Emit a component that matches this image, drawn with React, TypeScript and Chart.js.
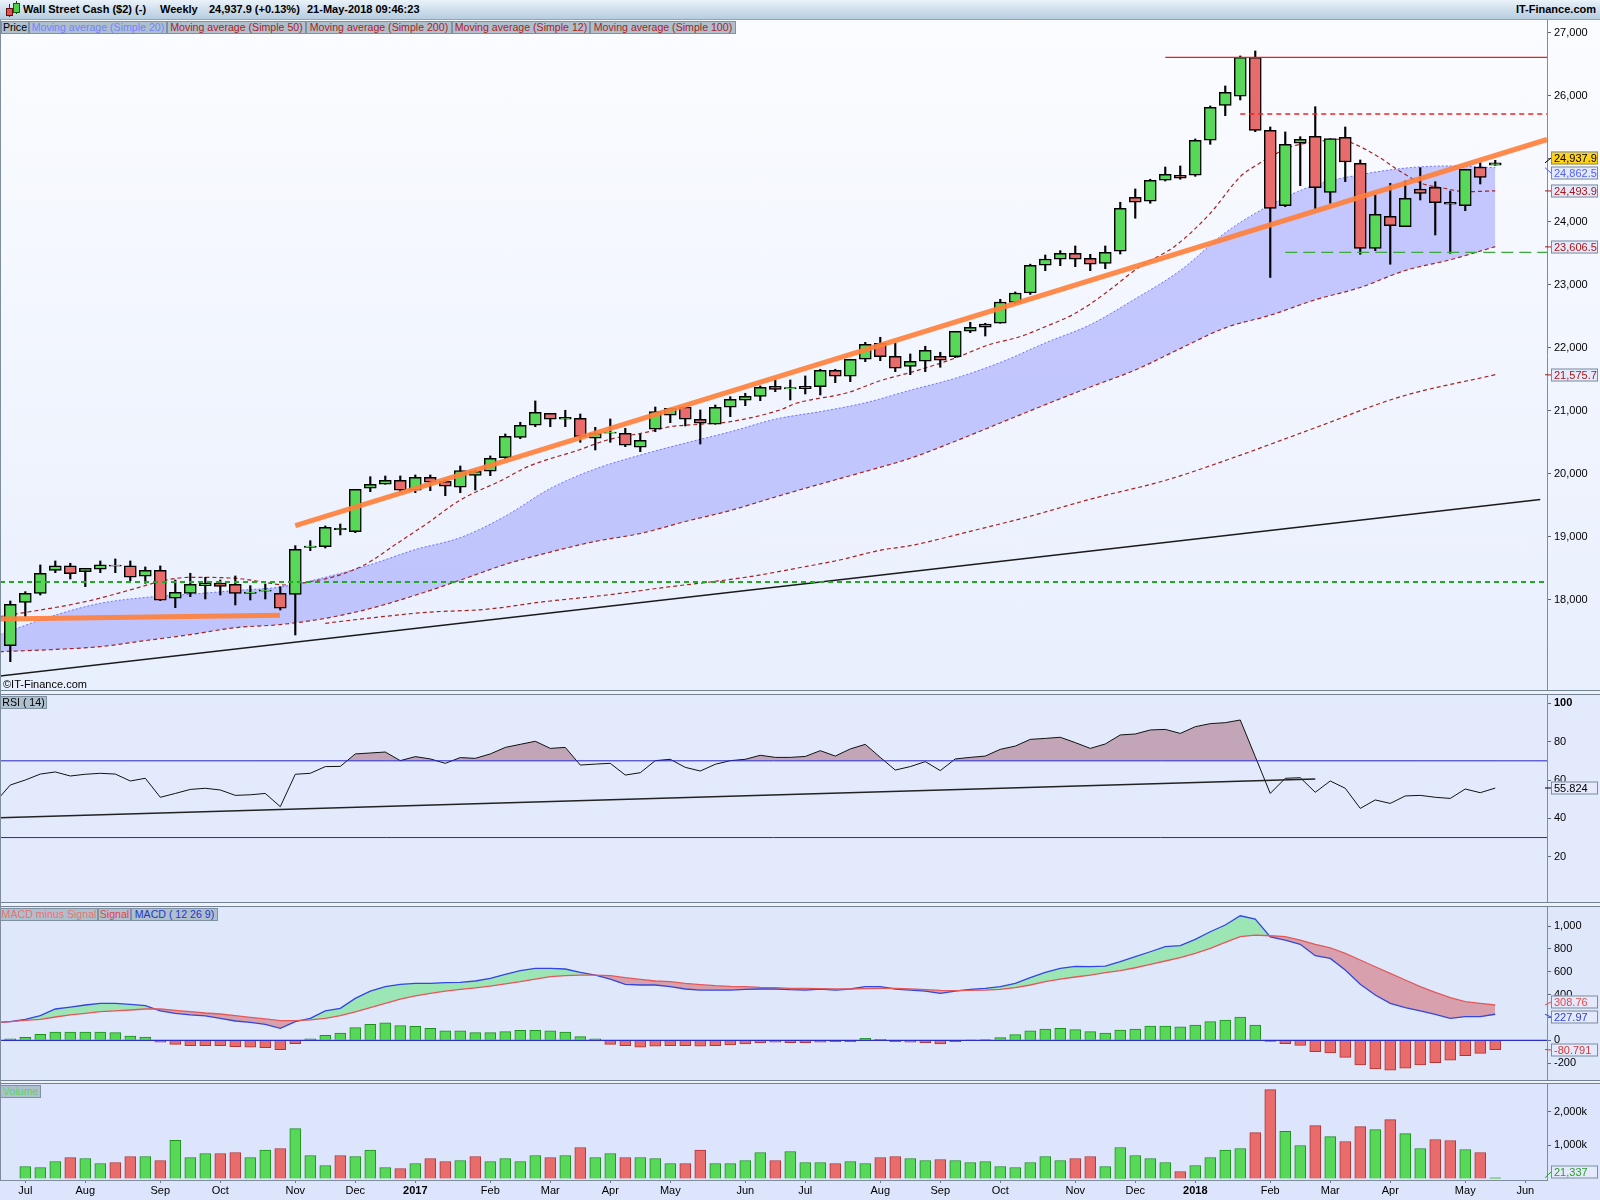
import React, { useEffect, useRef } from 'react';
import { Chart, registerables } from 'chart.js';

Chart.register(...registerables);

const FONT = '"Liberation Sans", Arial, Helvetica, sans-serif';

// ---------- categories / ticks ----------
const firstWeekStart = '2016-06-27';
const monthTickIdx = [1, 5, 10, 14, 19, 23, 27, 32, 36, 40, 44, 49, 53, 58, 62, 66, 71, 75, 79, 84, 88, 92, 97, 101];
const monthTickLabels = ['Jul', 'Aug', 'Sep', 'Oct', 'Nov', 'Dec', '2017', 'Feb', 'Mar', 'Apr', 'May', 'Jun', 'Jul', 'Aug', 'Sep', 'Oct', 'Nov', 'Dec', '2018', 'Feb', 'Mar', 'Apr', 'May', 'Jun'];
const priceTicks = [18000, 19000, 20000, 21000, 22000, 23000, 24000, 25000, 26000, 27000];
const rsiTicks = [20, 40, 60, 80, 100];
const macdTicks = [-200, 0, 200, 400, 600, 800, 1000];
const volTicks = [1000, 2000];

// ---------- weekly OHLC ----------
const opens = [17275,17963,18106,18471,18540,18449,18487,18535,18540,18376, 18471,18027,18106,18227,18270,18249,18106,18138,18106,18090, 18836,18846,19117,19084,19773,19837,19900,19741,19948,19884, 19789,19979,20043,20259,20582,20773,20963,20868,20884,20567, 20646,20646,20424,20710,20932,21063,20868,20789,21059,21170, 21233,21392,21350,21354,21386,21646,21551,21821,22075,21868, 21709,21789,21868,21862,22265,22329,22392,22725,22873,23313, 23408,23503,23424,23344,23535,24392,24329,24662,24741,24741, 25297,25852,25995,26614,25455,24259,25249,25360,24471,25344, 24932,23582,24090,23925,24524,24551,24313,24259,24873,24900];
const highs = [17984,18132,18556,18619,18583,18503,18619,18651,18619,18524, 18540,18317,18424,18360,18317,18381,18227,18254,18211,18862, 18941,19175,19206,19757,19957,19968,19968,19984,19984,19905, 20127,20063,20286,20635,20821,21159,20963,21011,20952,20741, 20873,20725,20630,21063,21043,21063,21016,21095,21227,21281, 21397,21492,21492,21556,21662,21662,21821,22090,22170,22075, 21905,22027,21932,22265,22408,22392,22773,22889,23330,23476, 23545,23619,23487,23619,24313,24524,24678,24873,24889,25317, 25841,26159,26635,26714,25508,25429,25354,25830,25322,25508, 24984,24429,24614,24651,24862,24640,24492,24837,24941,24979];
const lows = [17021,17735,18079,18433,18333,18211,18433,18433,18306,18265, 17990,17878,18053,18016,18079,17921,18000,18016,17841,17444, 18783,18825,19032,19068,19719,19837,19719,19703,19735,19656, 19703,19746,19973,20238,20560,20751,20751,20751,20503,20381, 20503,20433,20354,20671,20814,20762,20476,20789,20910,21084, 21164,21306,21175,21270,21254,21449,21465,21783,21798,21624, 21576,21624,21694,21846,22243,22190,22392,22700,22850,23227, 23306,23291,23227,23259,23492,24059,24297,24650,24678,24725, 25233,25687,25937,25433,23119,24243,24576,24206,24297,24640, 23487,23545,23329,23925,24349,23794,23503,24179,24603,24900];
const closes = [17932,18106,18424,18540,18417,18503,18556,18555,18360,18471, 17995,18122,18249,18270,18217,18106,18126,18158,17868,18805, 18856,19154,19137,19757,19837,19900,19741,19948,19868,19805, 20052,20043,20249,20598,20773,20979,20868,20900,20592,20646, 20666,20456,20535,20989,21043,20868,20805,21059,21186,21233, 21376,21344,21370,21392,21646,21551,21821,22059,21862,21678, 21789,21963,21805,22265,22329,22381,22730,22873,23313,23413, 23503,23408,23329,23519,24217,24313,24662,24757,24694,25297, 25821,26059,26614,25455,24217,25233,25313,24545,25322,24952, 23582,24122,23941,24376,24455,24306,24281,24837,24709,24938];

// ---------- moving averages ----------
const ma12X = [-0.7,5,8,10.4,12,15,17,18.2,20.6,21.6,23.6,25.8,27.8,30,32.8,34.5,37.9,39.8,42.6,44,46,48,51.3,52.4,55.8,58,60.2,63,65.2,67.3,69,71,73,75.3,77.6,80,82,83.1,85.4,87.2,88.6,89.5,91.2,92.7,94.1,95.6,97,99];
const ma12 = [17735,17973,18160,18317,18360,18344,18280,18238,18317,18370,18556,18900,19217,19587,19905,20116,20381,20540,20672,20751,20789,20830,21016,21122,21290,21480,21624,21840,22048,22179,22338,22550,22868,23291,23608,24138,24719,24905,25195,25275,25313,25249,25037,24799,24614,24535,24481,24494];
const bandX = [-0.7,3,6,9,12,15,18,21,24,27,30,33,36,39,42,45,48,51,54,57,60,63,66,69,72,75,78,81,84,87,90,93,96,99];
const ma20 = [17450,17760,17947,18040,18090,18150,18205,18360,18560,18800,18990,19330,19770,20080,20300,20490,20670,20870,20990,21130,21330,21520,21770,22080,22370,22780,23230,23830,24270,24590,24750,24855,24890,24862];
const ma50 = [17179,17215,17259,17355,17450,17560,17610,17709,17865,18075,18315,18565,18760,18930,19055,19245,19420,19635,19840,20040,20249,20520,20810,21100,21380,21650,21990,22320,22520,22765,22960,23230,23400,23608];
const ma100X = [21,24.4,27.8,31.7,35.6,39.8,44,46.8,49.6,52.4,55.3,58.1,60,64,68,72,77.1,81.1,86.9,92.7,99];
const ma100 = [17630,17725,17805,17852,17973,18079,18211,18290,18381,18503,18635,18794,18862,19090,19330,19600,19905,20222,20725,21227,21576];

// ---------- drawn lines ----------
const orange1X = [-0.687, 17.98];
const orange1Y = [17698, 17757];
const orange2X = [19, 102.45];
const orange2Y = [19179, 25309];
const blackTrendX = [-0.687, 102];
const blackTrendY = [16794, 19594];
const greenLevel = 18286;
const supportLevel = 23519;
const supportFromX = 85;
const highLevel = 26614;
const highFromX = 77;
const redDashLevel = 25714;
const redDashFromX = 82;

// ---------- RSI ----------
const rsiX0 = -1;
const rsi = [48.5, 57.4,60,63.1,64.2,62.1,63,63.5,63.1,59.5,60.9, 51,53,55.1,55.7,54.8,52,52.3,53,46.1,63, 63.5,67,67.1,73.6,74.1,74.6,70.1,72.2,71,68.7, 71.7,71.3,73.6,77,78.6,80.2,76.5,77,67.8,68.3, 68.7,62.6,63.8,70.1,70.8,66.6,64.7,68.2,70.1,70.8, 72.9,71.8,71.8,72.3,75.3,72.5,76.2,78.6,71.8,65.2, 67,69.6,64.9,71,71.8,72.5,76,77.7,81.2,81.7, 82.3,79.5,76.5,78.8,83.5,84,86.1,86.4,84.3,87.8, 89.4,89.9,91.3,72.2,53,60.9,61.2,53.6,59.5,55.7, 45.2,49.6,47.8,51.7,52,51,50.4,55.3,53.4,55.8];
const rsiTrendX = [-0.687, 87];
const rsiTrendY = [40.35, 60.5];
const rsiUpper = 70;
const rsiLower = 30;

// ---------- MACD ----------
const macdX0 = -1;
const macd = [155, 163,184,216,274,291,309,324,324,315,303, 257,236,222,213,192,169,157,140,105,163, 192,257,280,367,431,469,490,498,498,504, 507,519,542,577,609,630,630,624,595,571, 536,490,484,484,469,449,440,440,440,446, 449,449,443,440,449,440,449,469,469,449, 440,431,411,431,446,455,469,498,548,595, 630,647,644,650,688,732,775,819,828,883, 950,1009,1090,1061,905,877,840,740,717,615, 490,396,324,286,257,227,192,207,207,228];
const signal = [155, 163,175,184,204,222,236,251,257,265,274, 274,262,251,239,230,216,201,187,172,172, 178,192,216,248,286,324,361,388,411,431, 446,458,475,493,513,536,557,566,571,571, 566,548,533,519,513,498,487,478,472,469, 463,461,455,455,452,449,449,452,455,455, 449,443,437,434,437,440,446,461,484,513, 536,554,571,592,609,635,665,694,723,761, 805,857,907,921,915,907,877,840,810,761, 703,644,586,528,469,420,373,338,324,309];
const hist = [12,26,52,73,73,73,73,67,38,29, -17,-35,-47,-47,-47,-55,-61,-64,-82,-29, 12,44,64,111,140,152,128,122,105,82, 82,67,67,76,87,87,82,73,32,12, -35,-47,-61,-52,-47,-47,-52,-47,-41,-32, -23,-17,-20,-20,-17,-12,-12,17,9,-12, -17,-20,-32,-12,3,6,23,50,82,99, 105,93,76,64,90,99,125,125,117,134, 163,178,204,134,-10,-30,-45,-100,-110,-150, -215,-250,-262,-245,-215,-195,-175,-135,-115,-81];

// ---------- Volume (thousands) ----------
const volume = [null, 360,330,510,630,600,450,480,660,660,540, 1150,630,750,750,780,630,850,900,1500,690, 390,690,660,850,330,300,450,600,510,540, 660,510,600,510,690,630,690,930,630,750, 630,630,600,450,450,850,450,450,540,780, 540,810,480,480,450,510,450,630,660,600, 540,570,540,480,510,360,330,480,660,540, 600,660,360,930,690,600,480,210,390,630, 850,900,1380,2670,1420,990,1590,1260,1110,1560, 1470,1770,1350,900,1170,1140,870,780, 21.337];

// ---------- last values shown on the axes ----------
const lastPrice = 24937.9;
const lastMa20 = 24862.5;
const lastMa12 = 24493.9;
const lastMa50 = 23606.5;
const lastMa100 = 21575.7;
const lastRsi = 55.824;
const lastSignal = 308.76;
const lastMacd = 227.97;
const lastHist = -80.791;
const lastVolume = 21337;

// ---------- layout constants ----------
const X_MIN = -0.687;
const X_MAX = 102.45;
const AXIS_W = 53;
const GREEN = '#58d858';
const RED = '#e86c6c';

const fmt = (v: number) => v.toLocaleString('en-US');
const pts = (xs: number[], ys: number[]) => xs.map((x, k) => ({ x, y: ys[k] }));
const seq = (x0: number, ys: number[]) => ys.map((y, k) => ({ x: x0 + k, y }));

function xScale(show = false) {
  if (!show) return { type: 'linear', min: X_MIN, max: X_MAX, offset: false, display: false };
  return {
    type: 'linear', min: X_MIN, max: X_MAX, offset: false, position: 'bottom',
    afterBuildTicks: (s: any) => { s.ticks = monthTickIdx.map((v) => ({ value: v })); },
    afterFit: (s: any) => { s.height = 20; s.paddingLeft = 0; s.paddingRight = 0; },
    grid: { drawOnChartArea: false, drawTicks: true, tickLength: 3, color: '#6a7a8a', offset: false },
    border: { display: true, color: '#7d8d9d' },
    ticks: {
      autoSkip: false, maxRotation: 0, padding: 1, color: '#000',
      callback: (_v: any, i: number) => monthTickLabels[i],
      font: (ctx: any) => ({ family: FONT, size: 11, weight: /^\d{4}$/.test(monthTickLabels[ctx.index] || '') ? 'bold' : 'normal' }),
    },
  };
}

function yScale(min: number, max: number, ticks: number[], cb: (v: number) => string, boldTop = false) {
  return {
    type: 'linear', position: 'right', min, max,
    afterBuildTicks: (s: any) => { s.ticks = ticks.map((v) => ({ value: v })); },
    afterFit: (s: any) => { s.width = AXIS_W; s.paddingTop = 0; s.paddingBottom = 0; },
    grid: { drawOnChartArea: false, drawTicks: true, tickLength: 4, color: '#5a6a7a' },
    border: { display: true, color: '#7d8d9d' },
    ticks: {
      callback: (v: any) => cb(Number(v)), padding: 3, color: '#000',
      font: (ctx: any) => ({ family: FONT, size: 11, weight: boldTop && ctx.tick && ctx.tick.value === ticks[ticks.length - 1] ? 'bold' : 'normal' }),
    },
  };
}

type VL = { value: number; text: string; color: string; bg: string; dy?: number };
function valueLabels(items: VL[]) {
  return {
    id: 'valueLabels',
    afterDraw(chart: any) {
      const { ctx, chartArea } = chart;
      const ys = chart.scales.y;
      ctx.save();
      ctx.font = `11px ${FONT}`;
      ctx.textBaseline = 'middle';
      items.forEach((it) => {
        const base = ys.getPixelForValue(it.value);
        const py = Math.round(base + (it.dy || 0));
        const x = chartArea.right + 4;
        const w = 47;
        const h = 13;
        ctx.strokeStyle = it.color;
        ctx.lineWidth = 1;
        ctx.beginPath();
        ctx.moveTo(chartArea.right - 2, base);
        ctx.lineTo(x, py);
        ctx.stroke();
        ctx.fillStyle = it.bg;
        ctx.fillRect(x, py - h / 2, w, h);
        ctx.strokeStyle = '#7b8c9e';
        ctx.strokeRect(x + 0.5, py - h / 2 + 0.5, w - 1, h - 1);
        ctx.fillStyle = it.color;
        ctx.fillText(it.text, x + 3, py + 0.5);
      });
      ctx.restore();
    },
  };
}

const baseOptions = (scales: any) => ({
  responsive: false,
  animation: false,
  devicePixelRatio: 1,
  events: [],
  layout: { padding: 0 },
  plugins: { legend: { display: false }, tooltip: { enabled: false }, title: { display: false } },
  scales,
});

function priceConfig(): any {
  const idx = closes.map((_, i) => i);
  const line = (data: any[], color: string, width: number, dash: number[], order: number, extra: any = {}) => ({
    type: 'line', data, borderColor: color, borderWidth: width, borderDash: dash, pointRadius: 0, fill: false, order, ...extra,
  });
  return {
    type: 'bar',
    data: {
      datasets: [
        line(pts(bandX, ma20), 'rgba(100,100,255,0.9)', 1, [2, 2], 20, { fill: 1, backgroundColor: 'rgba(165,170,252,0.62)', cubicInterpolationMode: 'monotone' }),
        line(pts(bandX, ma50), '#a82222', 1.2, [4, 3], 19, { cubicInterpolationMode: 'monotone' }),
        line(pts(ma100X, ma100), '#a82222', 1.2, [4, 3], 18, { cubicInterpolationMode: 'monotone' }),
        line(pts(ma12X, ma12), '#a82222', 1.2, [4, 3], 17, { cubicInterpolationMode: 'monotone' }),
        line(pts(blackTrendX, blackTrendY), '#1a1a1a', 1.4, [], 16),
        {
          type: 'bar', data: idx.map((i) => ({ x: i, y: [lows[i], highs[i]] })),
          backgroundColor: '#000', borderWidth: 0, barThickness: 1.5, grouped: false, order: 10,
        },
        {
          type: 'bar', data: idx.map((i) => ({ x: i, y: [opens[i], closes[i]] })),
          backgroundColor: idx.map((i) => (closes[i] >= opens[i] ? GREEN : RED)),
          borderColor: '#000', borderWidth: 1.5, borderSkipped: false, barThickness: 12, grouped: false, order: 9,
        },
        line(pts([X_MIN, X_MAX], [greenLevel, greenLevel]), '#22a822', 2, [5, 4], 5),
        line(pts([supportFromX, X_MAX], [supportLevel, supportLevel]), '#3aa83a', 1.3, [12, 6], 5),
        line(pts([highFromX, X_MAX], [highLevel, highLevel]), '#e81e1e', 1.3, [], 5),
        line(pts([redDashFromX, X_MAX], [redDashLevel, redDashLevel]), '#ee2222', 1.3, [5, 4], 5),
        line(pts(orange1X, orange1Y), 'rgba(255,128,60,0.92)', 5, [], 1),
        line(pts(orange2X, orange2Y), 'rgba(255,128,60,0.92)', 5, [], 1),
      ],
    },
    options: baseOptions({
      x: xScale(false),
      y: yScale(16571, 27206, priceTicks, fmt),
    }),
    plugins: [valueLabels([
      { value: lastPrice, text: fmt(lastPrice), color: '#000', bg: '#ffd21c', dy: -5 },
      { value: lastMa20, text: fmt(lastMa20), color: '#5060ff', bg: '#e4e9fb', dy: 5 },
      { value: lastMa12, text: fmt(lastMa12), color: '#a81818', bg: '#e4e9fb' },
      { value: lastMa50, text: fmt(lastMa50), color: '#a81818', bg: '#e4e9fb' },
      { value: lastMa100, text: fmt(lastMa100), color: '#a81818', bg: '#e4e9fb' },
    ])],
  };
}

function rsiConfig(): any {
  return {
    type: 'line',
    data: {
      datasets: [
        { data: seq(rsiX0, rsi), borderColor: '#111', borderWidth: 1, pointRadius: 0, order: 3,
          fill: { target: { value: rsiUpper }, above: 'rgba(168,108,124,0.55)', below: 'rgba(0,0,0,0)' } },
        { data: pts([X_MIN, X_MAX], [rsiUpper, rsiUpper]), borderColor: '#2626c8', borderWidth: 1, pointRadius: 0, fill: false, order: 2 },
        { data: pts([X_MIN, X_MAX], [rsiLower, rsiLower]), borderColor: '#2626c8', borderWidth: 1, pointRadius: 0, fill: false, order: 2 },
        { data: pts(rsiTrendX, rsiTrendY), borderColor: '#222', borderWidth: 1.6, pointRadius: 0, fill: false, order: 1 },
      ],
    },
    options: baseOptions({ x: xScale(false), y: yScale(-3.6, 104.33, rsiTicks, (v) => String(v), true) }),
    plugins: [valueLabels([{ value: lastRsi, text: String(lastRsi), color: '#000', bg: '#e4e9fb' }])],
  };
}

function macdConfig(): any {
  return {
    type: 'bar',
    data: {
      datasets: [
        { type: 'bar', data: hist.map((v, i) => ({ x: i, y: v })),
          backgroundColor: hist.map((v) => (v >= 0 ? GREEN : RED)),
          borderColor: hist.map((v) => (v >= 0 ? '#1e8e1e' : '#b23434')),
          borderWidth: 1, barThickness: 11, grouped: false, order: 5 },
        { type: 'line', data: pts([X_MIN, X_MAX], [0, 0]), borderColor: '#2c2cc8', borderWidth: 1.3, pointRadius: 0, fill: false, order: 4 },
        { type: 'line', data: seq(macdX0, macd), borderColor: '#3346e0', borderWidth: 1.3, pointRadius: 0, order: 2,
          fill: { target: 3, above: 'rgba(130,228,152,0.72)', below: 'rgba(212,128,138,0.7)' } },
        { type: 'line', data: seq(macdX0, signal), borderColor: '#e4585a', borderWidth: 1.3, pointRadius: 0, fill: false, order: 1 },
      ],
    },
    options: baseOptions({ x: xScale(false), y: yScale(-347.5, 1166.7, macdTicks, fmt) }),
    plugins: [valueLabels([
      { value: lastSignal, text: String(lastSignal), color: '#e04a4a', bg: '#e4e9fb', dy: -3 },
      { value: lastMacd, text: String(lastMacd), color: '#2c3ed8', bg: '#e4e9fb', dy: 3 },
      { value: lastHist, text: String(lastHist), color: '#d03a3a', bg: '#e4e9fb' },
    ])],
  };
}

function volConfig(): any {
  const data: any[] = [];
  const colors: string[] = [];
  const borders: string[] = [];
  volume.forEach((v, i) => {
    if (v === null) return;
    const upWeek = i === 0 || closes[i] >= closes[i - 1];
    data.push({ x: i, y: v });
    colors.push(upWeek ? GREEN : RED);
    borders.push(upWeek ? '#1e8e1e' : '#b23434');
  });
  return {
    type: 'bar',
    data: {
      datasets: [
        { data, backgroundColor: colors, borderColor: borders, borderWidth: 1, barThickness: 11, grouped: false },
      ],
    },
    options: baseOptions({ x: xScale(true), y: yScale(-45, 2838, volTicks, (v) => fmt(v) + 'k') }),
    plugins: [valueLabels([{ value: lastVolume / 1000, text: fmt(lastVolume), color: '#2a9e2a', bg: '#e4e9fb', dy: -6 }])],
  };
}

const legendBoxes = [
  { text: 'Price', left: 1, width: 28, color: '#000' },
  { text: 'Moving average (Simple 20)', left: 29, width: 138, color: '#7582ff' },
  { text: 'Moving average (Simple 50)', left: 167, width: 139, color: '#b01c1c' },
  { text: 'Moving average (Simple 200)', left: 306, width: 146, color: '#b01c1c' },
  { text: 'Moving average (Simple 12)', left: 452, width: 138, color: '#b01c1c' },
  { text: 'Moving average (Simple 100)', left: 590, width: 146, color: '#b01c1c' },
];
const macdBoxes = [
  { text: 'MACD minus Signal', left: 0, width: 98, color: '#f07070' },
  { text: 'Signal', left: 98, width: 33, color: '#e04444' },
  { text: 'MACD ( 12 26 9)', left: 131, width: 87, color: '#2436c8' },
];

function Tag({ text, left, top, width, color }: { text: string; left: number; top: number; width: number; color: string }) {
  return (
    <div style={{
      position: 'absolute', left, top, width, height: 13, boxSizing: 'border-box',
      background: '#aebfce', border: '1px solid #7f91a2', color, font: `10.6px ${FONT}`,
      lineHeight: '11px', textAlign: 'center', whiteSpace: 'nowrap', overflow: 'hidden', zIndex: 3,
    }}>{text}</div>
  );
}

function Sep({ top, height }: { top: number; height: number }) {
  return <div style={{ position: 'absolute', left: 0, top, width: 1600, height, boxSizing: 'border-box', background: '#eef2f8', borderTop: '1px solid #738394', borderBottom: '1px solid #738394' }} />;
}

export default function App() {
  const pRef = useRef<HTMLCanvasElement>(null);
  const rRef = useRef<HTMLCanvasElement>(null);
  const mRef = useRef<HTMLCanvasElement>(null);
  const vRef = useRef<HTMLCanvasElement>(null);

  useEffect(() => {
    const charts = [
      new Chart(pRef.current as HTMLCanvasElement, priceConfig()),
      new Chart(rRef.current as HTMLCanvasElement, rsiConfig()),
      new Chart(mRef.current as HTMLCanvasElement, macdConfig()),
      new Chart(vRef.current as HTMLCanvasElement, volConfig()),
    ];
    return () => charts.forEach((c) => c.destroy());
  }, []);

  const cv = (top: number, height: number): React.CSSProperties => ({ position: 'absolute', left: 0, top, width: 1600, height, zIndex: 2 });

  return (
    <div style={{ position: 'fixed', left: 0, top: 0, width: 1600, height: 1200, overflow: 'hidden', background: '#e6edf8', fontFamily: FONT }} data-start={firstWeekStart}>
      {/* header */}
      <div style={{ position: 'absolute', left: 0, top: 0, width: 1600, height: 20, boxSizing: 'border-box', background: 'linear-gradient(#eaf2f9, #b6cce0)', borderBottom: '1px solid #8ea4b8', font: `bold 11px ${FONT}`, color: '#000' }}>
        <div style={{ position: 'absolute', left: 9, top: 4, width: 1, height: 13, background: '#333' }} />
        <div style={{ position: 'absolute', left: 16, top: 1, width: 1, height: 13, background: '#333' }} />
        <div style={{ position: 'absolute', left: 6, top: 8, width: 7, height: 8, boxSizing: 'border-box', background: '#e25050', border: '1px solid #601010' }} />
        <div style={{ position: 'absolute', left: 13, top: 3, width: 7, height: 10, boxSizing: 'border-box', background: '#4cd04c', border: '1px solid #0f5f0f' }} />
        <span style={{ position: 'absolute', left: 23, top: 3 }}>Wall Street Cash ($2) (-)</span>
        <span style={{ position: 'absolute', left: 160, top: 3 }}>Weekly</span>
        <span style={{ position: 'absolute', left: 209, top: 3 }}>24,937.9 (+0.13%)</span>
        <span style={{ position: 'absolute', left: 307, top: 3 }}>21-May-2018 09:46:23</span>
        <span style={{ position: 'absolute', right: 4, top: 3 }}>IT-Finance.com</span>
      </div>

      {/* panel backgrounds */}
      <div style={{ position: 'absolute', left: 0, top: 20, width: 1600, height: 670, background: 'linear-gradient(#fbfcff, #e8effd)' }} />
      <Sep top={690} height={5} />
      <div style={{ position: 'absolute', left: 0, top: 695, width: 1600, height: 207, background: '#e3eafc' }} />
      <Sep top={902} height={5} />
      <div style={{ position: 'absolute', left: 0, top: 907, width: 1600, height: 173, background: '#dfe7fb' }} />
      <Sep top={1080} height={4} />
      <div style={{ position: 'absolute', left: 0, top: 1084, width: 1600, height: 116, background: '#dce5fb' }} />
      <div style={{ position: 'absolute', left: 0, top: 20, width: 1, height: 1160, background: '#7d8d9d', zIndex: 4 }} />

      {/* charts */}
      <canvas ref={pRef} width={1600} height={670} style={cv(20, 670)} />
      <canvas ref={rRef} width={1600} height={207} style={cv(695, 207)} />
      <canvas ref={mRef} width={1600} height={173} style={cv(907, 173)} />
      <canvas ref={vRef} width={1600} height={116} style={cv(1084, 116)} />

      {/* overlays */}
      {legendBoxes.map((b) => <Tag key={b.text} {...b} top={21} />)}
      <div style={{ position: 'absolute', left: 3, top: 678, font: `11px ${FONT}`, color: '#000', zIndex: 3 }}>©IT-Finance.com</div>
      <Tag text="RSI ( 14)" left={0} top={696} width={47} color="#000" />
      {macdBoxes.map((b) => <Tag key={b.text} {...b} top={908} />)}
      <Tag text="Volume" left={0} top={1085} width={41} color="#5cd65c" />
    </div>
  );
}
